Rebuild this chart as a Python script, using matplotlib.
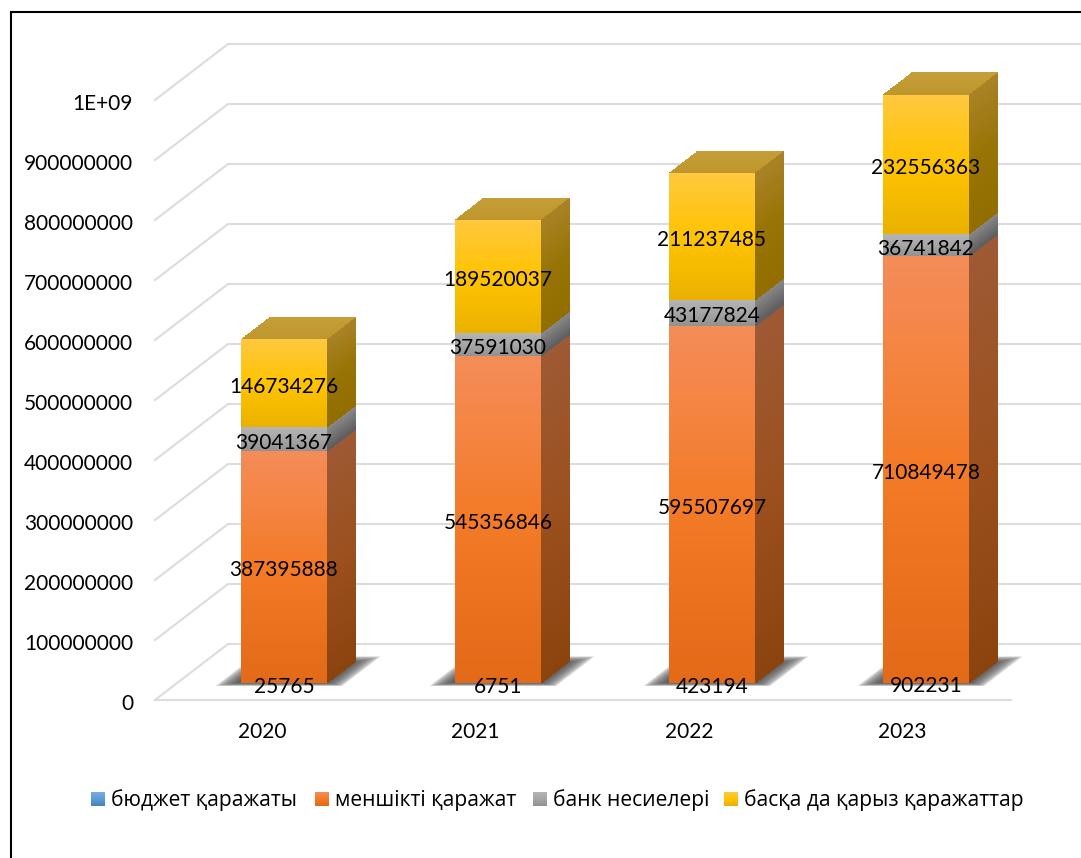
import numpy as np
import matplotlib
matplotlib.use("Agg")
import matplotlib.pyplot as plt
from matplotlib.lines import Line2D

years = ["2020", "2021", "2022", "2023"]
budget = [25765, 6751, 423194, 902231]
own = [387395888, 545356846, 595507697, 710849478]
bank = [39041367, 37591030, 43177824, 36741842]
other = [146734276, 189520037, 211237485, 232556363]
series_names = ["бюджет қаражаты", "меншікті қаражат", "банк несиелері", "басқа да қарыз қаражаттар"]
y_ticks = [0, 100000000, 200000000, 300000000, 400000000, 500000000,
           600000000, 700000000, 800000000, 900000000, 1000000000]
y_labels = ["0", "100000000", "200000000", "300000000", "400000000", "500000000",
            "600000000", "700000000", "800000000", "900000000", "1E+09"]

W, H = 1081, 858
PX_X, PX_Y0, CAT_W, PX_PER_V = 155.0, 700.0, 214.0, 60.0 / 1e8
DEPTH_X, DEPTH_Y = 73.0 / CAT_W, 56.0 / PX_PER_V

FONT = ["Lato", "Open Sans", "DejaVu Sans"]
LEGEND_FONT = ["Open Sans", "DejaVu Sans"]
FS = 15.0

fig = plt.figure(figsize=(W / 100, H / 100), dpi=100, facecolor="white")
ax = fig.add_axes([0, 0, 1, 1])
ax.set_xlim(-PX_X / CAT_W, (W - PX_X) / CAT_W)
ax.set_ylim((PX_Y0 - H) / PX_PER_V, PX_Y0 / PX_PER_V)
ax.axis("off")


def pr(cat, depth, val):
    return cat + depth * DEPTH_X, val + depth * DEPTH_Y


def grad(stops, n):
    t = np.linspace(0, 1, n)
    s = np.asarray(stops, float) / 255
    pos = np.linspace(0, 1, len(s))
    return np.stack([np.interp(t, pos, s[:, i]) for i in range(3)], axis=1)


def face(bl, br, tl, tr, stops, z, n=40):
    """Quad with a gradient from its top edge (first stop) to its bottom edge."""
    f = np.linspace(1, 0, n + 1)[:, None]
    left = np.array(bl) + (np.array(tl) - np.array(bl)) * f
    right = np.array(br) + (np.array(tr) - np.array(br)) * f
    X = np.stack([left[:, 0], right[:, 0]], axis=1)
    Y = np.stack([left[:, 1], right[:, 1]], axis=1)
    C = grad(stops, n)[:, None, :]
    ax.pcolormesh(X, Y, C, shading="flat", zorder=z, edgecolors="none", rasterized=True)


GRID = "#dcdcdc"
for v in y_ticks:
    pts = [pr(0, 0, v), pr(0, 1, v), pr(4.02, 1, v)]
    ax.plot(*zip(*pts), color=GRID, lw=1.5, zorder=1, solid_joinstyle="miter")
ax.plot(*zip(pr(0, 0, 0), pr(4, 0, 0)), color=GRID, lw=1.5, zorder=1)

BAR_D0, BAR_D1 = 0.30, 0.695
BAR_L, BAR_W = 0.30, 0.40

styles = {
    "budget": dict(front=[(120, 170, 220), (91, 155, 213), (70, 130, 190)],
                   side=[(70, 110, 150), (50, 90, 130)]),
    "own": dict(front=[(244, 140, 88), (243, 122, 38), (226, 106, 24)],
                side=[(158, 90, 52), (155, 80, 30), (140, 68, 14)]),
    "bank": dict(front=[(180, 180, 180), (166, 166, 166), (146, 146, 146)],
                 side=[(138, 138, 138), (95, 95, 95)]),
    "other": dict(front=[(255, 200, 62), (255, 195, 0), (234, 178, 0)],
                  side=[(170, 130, 38), (152, 116, 6), (146, 110, 0)]),
}
TOP_COLOR = [(197, 158, 56), (190, 150, 45)]

stack = [("budget", budget), ("own", own), ("bank", bank), ("other", other)]

for i in range(len(years)):
    # soft floor shadow built from nested low-alpha shapes
    layers = 24
    for k in range(layers):
        f = (k / (layers - 1)) ** 1.3
        a = 0.196 + (0.285 - 0.196) * f
        b = 0.79 + (0.70 - 0.79) * f
        d0 = 0.25 + (0.31 - 0.25) * f
        d1 = 0.78 + (0.66 - 0.78) * f
        poly = [pr(i + a, d0, 0), pr(i + b, d0, 0), pr(i + b, d1, 0), pr(i + a, d1, 0)]
        ax.fill(*zip(*poly), color="#303030", alpha=0.055, lw=0, zorder=2)

    base = 0.0
    x0, x1 = i + BAR_L, i + BAR_L + BAR_W
    for key, vals in stack:
        top = base + vals[i]
        st = styles[key]
        face(pr(x1, BAR_D0, base), pr(x1, BAR_D1, base),
             pr(x1, BAR_D0, top), pr(x1, BAR_D1, top), st["side"], 3)
        face(pr(x0, BAR_D0, base), pr(x1, BAR_D0, base),
             pr(x0, BAR_D0, top), pr(x1, BAR_D0, top), st["front"], 4)
        cx, cy = pr((x0 + x1) / 2, BAR_D0, (base + top) / 2 - 3.5 / PX_PER_V)
        ax.text(cx, cy, str(vals[i]), ha="center", va="center", fontsize=FS,
                family=FONT, color="black", zorder=6)
        base = top
    face(pr(x0, BAR_D0, base), pr(x1, BAR_D0, base),
         pr(x0, BAR_D1, base), pr(x1, BAR_D1, base), TOP_COLOR, 3)

# axis labels
for v, lab in zip(y_ticks, y_labels):
    x, _ = pr(0, 0, 0)
    ax.annotate(lab, (x, v), xytext=(-22, -3.5), textcoords="offset pixels", ha="right",
                va="center", fontsize=FS, family=FONT, color="black",
                annotation_clip=False)
for i, yr in enumerate(years):
    ax.annotate(yr, (i + 0.5 - i * 0.0025, 0), xytext=(0, -32.5), textcoords="offset pixels",
                ha="center", va="center", fontsize=FS, family=FONT, color="black",
                annotation_clip=False)

# legend
legend_x = [91, 315, 533, 724]
legend_cols = [styles["budget"]["front"], styles["own"]["front"],
               styles["bank"]["front"], styles["other"]["front"]]
for px, name, stops in zip(legend_x, series_names, legend_cols):
    lax = fig.add_axes([px / W, 1 - 806 / H, 14 / W, 14 / H])
    lax.imshow(grad(stops, 14)[:, None, :], aspect="auto")
    lax.axis("off")
    fig.text((px + 20) / W, 1 - 800.5 / H, name, ha="left", va="center",
             fontsize=15.2, family=LEGEND_FONT, color="black")

# outer frame
fig.add_artist(Line2D([10.5 / W, 10.5 / W, 1], [0, 1 - 12 / H, 1 - 12 / H],
                      color="black", lw=1.5, solid_joinstyle="miter"))

fig.savefig("out.png", dpi=100, facecolor="white")
